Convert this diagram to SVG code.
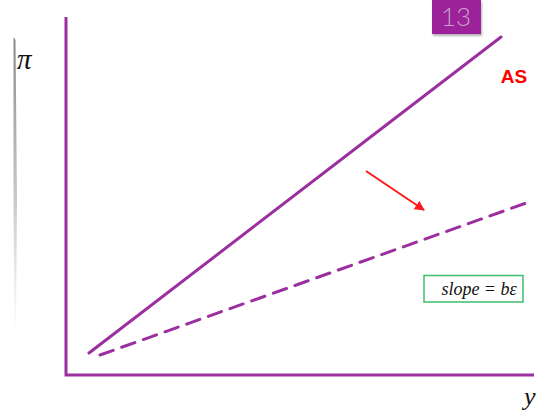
<svg xmlns="http://www.w3.org/2000/svg" width="537" height="412" viewBox="0 0 537 412">
<defs>
<style>
.axis{stroke:#9B2FA0;stroke-width:3;fill:none}
.curve{stroke:#9B2FA0;stroke-width:3;fill:none;stroke-linecap:round}
.math{font-family:"Liberation Serif","DejaVu Serif",serif;font-style:italic;fill:#111}
</style>
<linearGradient id="edge" x1="0" y1="0" x2="0" y2="1">
<stop offset="0" stop-color="#8a8a8a"/>
<stop offset="0.4" stop-color="#b8b8b8"/>
<stop offset="1" stop-color="#ffffff"/>
</linearGradient>
<marker id="ah" viewBox="0 0 10 10" refX="9" refY="5" markerWidth="5" markerHeight="5" orient="auto">
<path d="M0,0 L10,5 L0,10 z" fill="#FF1A1A"/>
</marker>
<filter id="sh" x="-20%" y="-20%" width="150%" height="150%">
<feDropShadow dx="1" dy="2" stdDeviation="1.2" flood-color="#000" flood-opacity="0.3"/>
</filter>
</defs>
<rect width="537" height="412" fill="#fff"/>
<path d="M13.5,37 L15.5,40 L17,200 L16,333 L14.5,333 L13.5,200 Z" fill="url(#edge)"/>
<g id="slide-number">
<rect x="432" y="0" width="49" height="34" fill="#9B2199" filter="url(#sh)"/>
<text x="456" y="26" text-anchor="middle" font-family="Lato,'Liberation Sans',sans-serif" font-weight="300" font-size="26" fill="#c7a2c7">13</text>
</g>
<g id="axes">
<path class="axis" d="M66,17 L66,375 L534,375"/>
<text class="math" x="17" y="69" font-size="29">π</text>
<text class="math" x="524" y="405" font-size="26">y</text>
</g>
<g id="connectors">
<line class="curve" x1="89" y1="353" x2="501" y2="37"/>
<line class="curve" x1="100" y1="355" x2="529" y2="202" stroke-dasharray="14 9"/>
<line x1="366" y1="171" x2="424" y2="210" stroke="#FF1A1A" stroke-width="2" marker-end="url(#ah)"/>
</g>
<g id="label-AS">
<text x="514" y="83" text-anchor="middle" font-family="'Liberation Sans',Arial,sans-serif" font-weight="bold" font-size="19" fill="#FF0000">AS</text>
</g>
<g id="slope-box">
<rect x="424" y="275.5" width="99" height="26.5" fill="#fff" stroke="#3DBE6E" stroke-width="1.5"/>
<text class="math" x="479" y="295" text-anchor="middle" font-size="18" fill="#333">slope = bε</text>
</g>
</svg>
